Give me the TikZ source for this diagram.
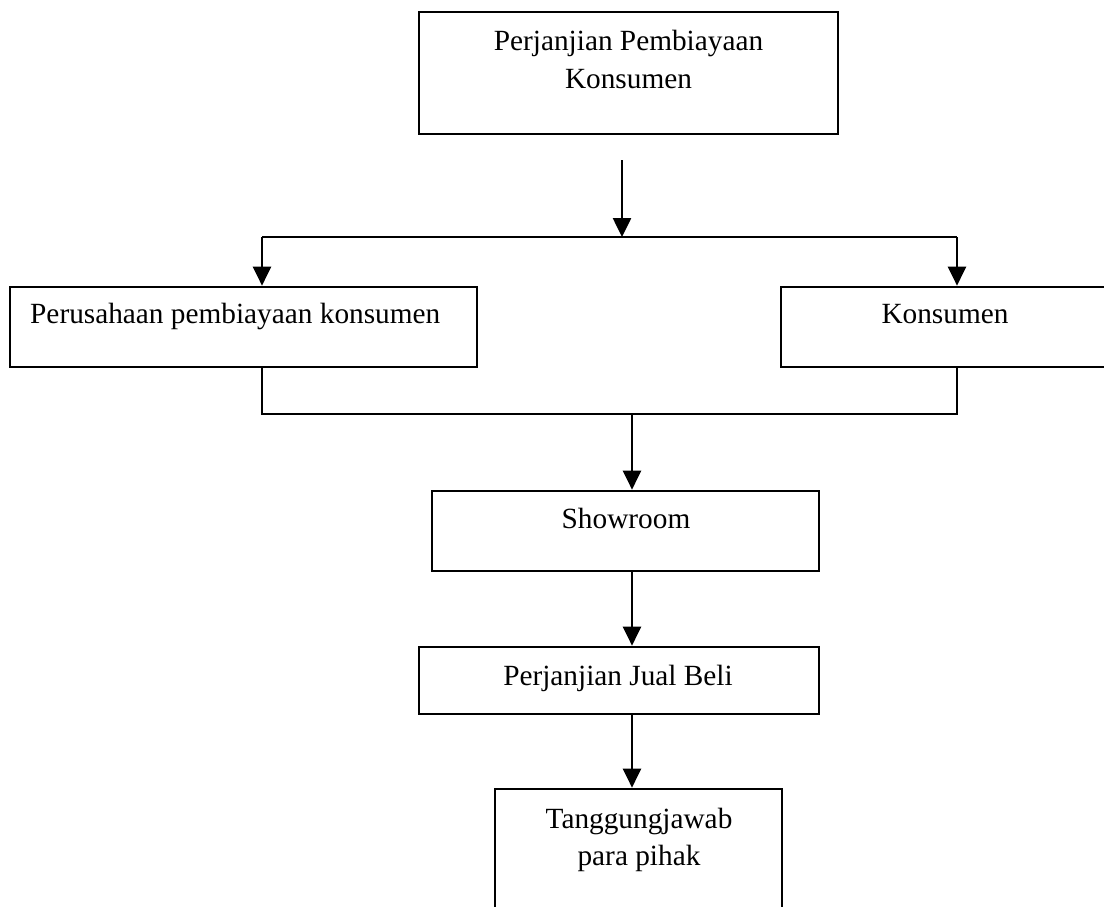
\documentclass[tikz,border=0pt]{standalone}
\usepackage{fontspec}
\setmainfont{Liberation Serif}
\usetikzlibrary{arrows.meta}
\begin{document}
\begin{tikzpicture}[x=1pt,y=-1pt,
  box/.style={draw, line width=2.7pt, inner sep=0pt, rectangle},
  lbl/.style={anchor=base, inner sep=0pt, font=\fontsize{29.3}{38}\selectfont},
  arr/.style={line width=2.6pt, -{Triangle[width=18pt,length=19pt]}},
  link/.style={line width=1.8pt}]
\useasboundingbox (0,0) rectangle (1104,906);
\fill[white] (0,0) rectangle (1104,906);
% boxes
\node[box, minimum width=419pt, minimum height=122pt] (top) at (628.5,73) {};
\node[box, minimum width=467pt, minimum height=80pt] (left) at (243.5,327) {};
\node[box, minimum width=329pt, minimum height=80pt] (right) at (945.5,327) {};
\node[box, minimum width=387pt, minimum height=80pt] (show) at (625.5,531) {};
\node[box, minimum width=400pt, minimum height=67pt] (jual) at (619,680.5) {};
\node[box, minimum width=287pt, minimum height=131pt] (resp) at (638.5,854.5) {};
% labels
\node[lbl] (t1) at (628.5,50) {Perjanjian Pembiayaan};
\node[lbl] (t2) at (628.5,88) {Konsumen};
\node[lbl, anchor=base west] (l1) at (30,323) {Perusahaan pembiayaan konsumen};
\node[lbl] (r1) at (945,323) {Konsumen};
\node[lbl] (s1) at (626,528) {Showroom};
\node[lbl] (j1t) at (618,685) {Perjanjian Jual Beli};
\node[lbl] (b1) at (639,828) {Tanggungjawab};
\node[lbl] (b2) at (639,865) {para pihak};
% connectors
\coordinate (a0) at (622,160);
\coordinate (j1) at (622,237);
\coordinate (jl) at (262,237);
\coordinate (jr) at (957,237);
\coordinate (bl) at (262,414);
\coordinate (br) at (957,414);
\coordinate (bm) at (632,414);
\draw[arr] (a0) -- (j1);
\draw[line width=2.7pt] (jl) -- (jr);
\draw[arr] (jl) -- (jl |- left.north);
\draw[arr] (jr) -- (jr |- right.north);
\draw[link] (bl |- left.south) -- (bl) -- (br) -- (br |- right.south);
\draw[arr] (bm) -- (bm |- show.north);
\draw[arr] (bm |- show.south) -- (bm |- jual.north);
\draw[arr] (bm |- jual.south) -- (bm |- resp.north);
\end{tikzpicture}
\end{document}
